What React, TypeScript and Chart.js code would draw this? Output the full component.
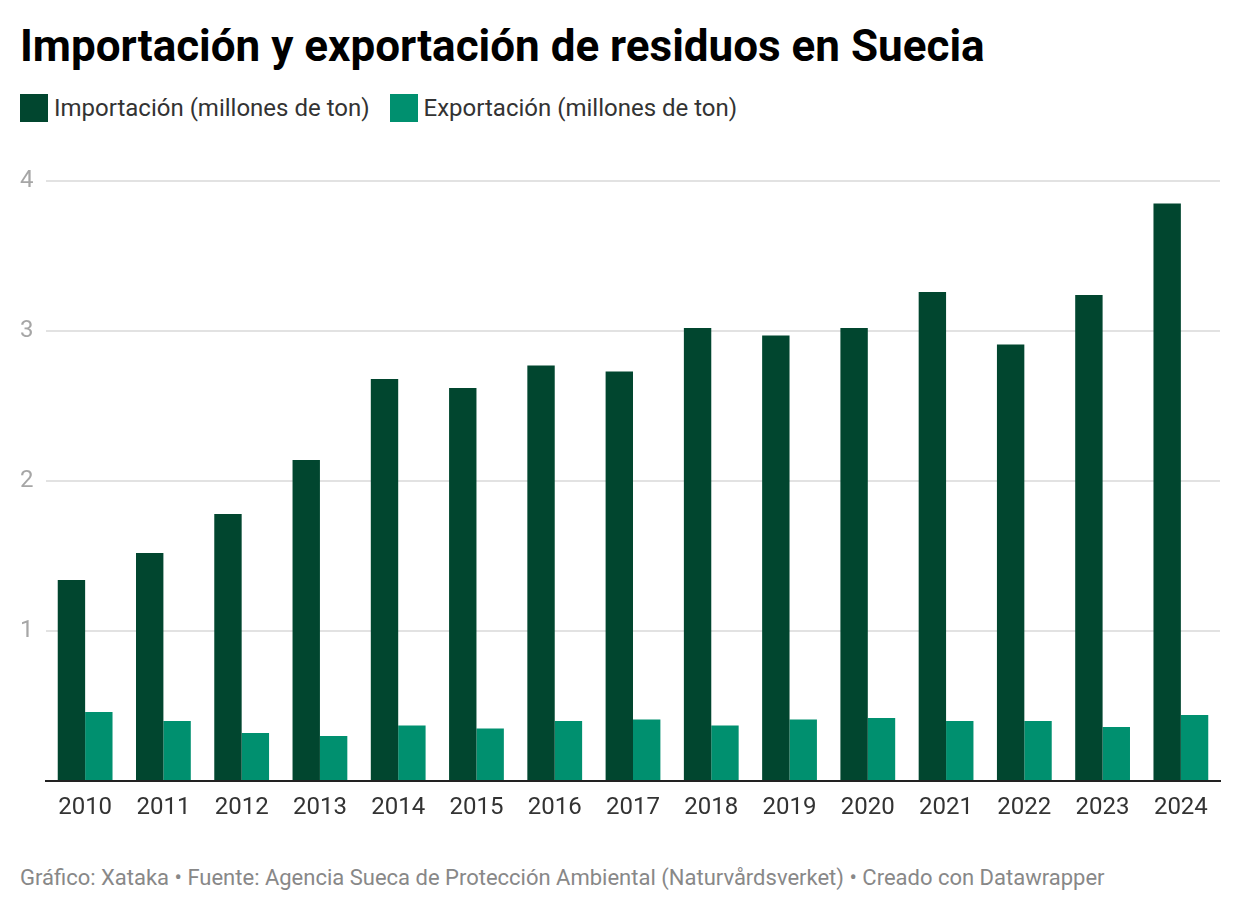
import React, { useEffect, useRef } from 'react';
import Chart from 'chart.js/auto';

const years = ['2010', '2011', '2012', '2013', '2014', '2015', '2016', '2017', '2018', '2019', '2020', '2021', '2022', '2023', '2024'];
const importacion = [1.34, 1.52, 1.78, 2.14, 2.68, 2.62, 2.77, 2.73, 3.02, 2.97, 3.02, 3.26, 2.91, 3.24, 3.85];
const exportacion = [0.46, 0.4, 0.32, 0.3, 0.37, 0.35, 0.4, 0.41, 0.37, 0.41, 0.42, 0.4, 0.4, 0.36, 0.44];
const yTicks = [0, 1, 2, 3, 4];

const seriesNames = ['Importación (millones de ton)', 'Exportación (millones de ton)'];
const seriesColors = ['#01462f', '#00906f'];

const titleText = 'Importación y exportación de residuos en Suecia';
const footerText = 'Gráfico: Xataka • Fuente: Agencia Sueca de Protección Ambiental (Naturvårdsverket) • Creado con Datawrapper';

const font = 'Roboto, "Noto Sans", sans-serif';

const App: React.FC = () => {
    const chartRef = useRef<HTMLCanvasElement | null>(null);

    useEffect(() => {
        document.body.style.margin = '0';
        const ctx = chartRef.current?.getContext('2d');
        if (!ctx) {
            return;
        }

        const myChart = new Chart(ctx, {
            type: 'bar',
            data: {
                labels: years,
                datasets: [
                    {
                        label: seriesNames[0],
                        data: importacion,
                        backgroundColor: seriesColors[0],
                        barPercentage: 1,
                        categoryPercentage: 0.7,
                    },
                    {
                        label: seriesNames[1],
                        data: exportacion,
                        backgroundColor: seriesColors[1],
                        barPercentage: 1,
                        categoryPercentage: 0.7,
                    },
                ],
            },
            options: {
                animation: false,
                responsive: true,
                maintainAspectRatio: false,
                layout: {
                    padding: { left: 20, right: 20, top: 31, bottom: 0 },
                },
                plugins: {
                    legend: { display: false },
                    tooltip: { enabled: false },
                },
                scales: {
                    x: {
                        afterFit: (axis) => {
                            axis.height = 50;
                        },
                        grid: { display: false },
                        border: { display: true, color: '#222', width: 2 },
                        ticks: {
                            color: '#333',
                            font: { family: 'Roboto', size: 24 },
                            padding: 5,
                            maxRotation: 0,
                        },
                    },
                    y: {
                        min: yTicks[0],
                        max: yTicks[yTicks.length - 1],
                        afterBuildTicks: (axis) => {
                            axis.ticks = yTicks.map((v) => ({ value: v }));
                        },
                        afterFit: (axis) => {
                            axis.width = 26;
                        },
                        grid: { color: '#e2e2e2', lineWidth: 2, drawTicks: false },
                        border: { display: false },
                        ticks: {
                            color: '#a6a6a6',
                            font: { family: 'Roboto', size: 24 },
                            padding: 0,
                            crossAlign: 'far',
                            callback: (value) => (value === 0 ? '' : String(value)),
                        },
                    },
                },
            },
        });

        return () => {
            myChart.destroy();
        };
    }, []);

    return (
        <div style={{ position: 'relative', width: 1240, height: 914, fontFamily: font }}>
            <div
                style={{
                    position: 'absolute',
                    left: 20,
                    top: 24,
                    fontSize: 44,
                    lineHeight: '44px',
                    fontWeight: 700,
                    color: '#000',
                    whiteSpace: 'nowrap',
                }}
            >
                {titleText}
            </div>
            <div style={{ position: 'absolute', left: 20, top: 94, height: 28, display: 'flex', alignItems: 'center' }}>
                {seriesNames.map((name, i) => (
                    <div key={name} style={{ display: 'flex', alignItems: 'center', marginRight: 20 }}>
                        <span style={{ width: 28, height: 28, background: seriesColors[i], marginRight: 6 }} />
                        <span style={{ fontSize: 24, lineHeight: '28px', color: '#333', whiteSpace: 'nowrap' }}>{name}</span>
                    </div>
                ))}
            </div>
            <div style={{ position: 'absolute', left: 0, top: 150, width: 1240, height: 681 }}>
                <canvas ref={chartRef} />
            </div>
            <div
                style={{
                    position: 'absolute',
                    left: 20,
                    top: 867,
                    fontSize: 22,
                    lineHeight: '22px',
                    color: '#888',
                    whiteSpace: 'nowrap',
                }}
            >
                {footerText}
            </div>
        </div>
    );
};

export default App;
